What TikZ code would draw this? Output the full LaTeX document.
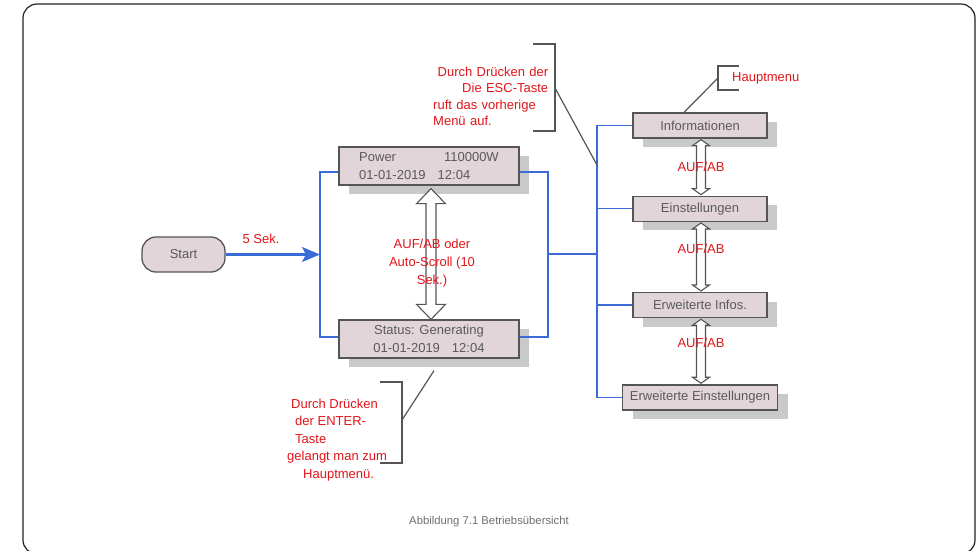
\documentclass[tikz,border=0pt]{standalone}
\usepackage{fontspec}
\setmainfont{Liberation Sans}
\usepackage{tikz}
\usetikzlibrary{arrows.meta,positioning,calc,shadows}
\definecolor{boxfill}{RGB}{226,213,218}
\definecolor{boxline}{RGB}{85,85,85}
\definecolor{boxtext}{RGB}{90,90,90}
\definecolor{shade}{RGB}{200,202,202}
\definecolor{linkblue}{RGB}{58,107,214}
\definecolor{notered}{RGB}{225,20,25}
\definecolor{capgray}{RGB}{110,110,110}
\definecolor{framecol}{RGB}{40,32,32}
\tikzset{
  menu/.style={draw=boxline, line width=1.3pt, fill=boxfill, text=boxtext, align=center, inner sep=0pt,
    minimum height=25pt, drop shadow={shadow xshift=10pt, shadow yshift=-9pt, fill=shade, opacity=1}},
  screen/.style={menu, minimum width=180pt, minimum height=38pt, font=\fontsize{13}{18}\selectfont},
  startbox/.style={draw=boxline, line width=1.3pt, fill=boxfill, text=boxtext, rounded corners=14pt,
    minimum width=83pt, minimum height=35pt},
  link/.style={draw=linkblue, line width=1.3pt},
  note/.style={text=notered, inner sep=0pt},
  callout/.style={draw=boxline, line width=1.2pt},
  hollow/.style={draw=boxline, line width=1.1pt, fill=white},
}
% hollow up/down arrow: top tip, bottom tip, shaft half width, head half width, head length
\newcommand{\updown}[5]{%
  \draw[hollow] (#1) -- ++(#4,#5) -- ++(-#4+#3,0) -- ($(#2)+(#3,-#5)$) -- ++(#4-#3,0) -- (#2)
    -- ++(-#4,-#5) -- ++(#4-#3,0) -- ($(#1)+(-#3,#5)$) -- ++(-#4+#3,0) -- cycle;
}

\begin{document}
\begin{tikzpicture}[x=1pt, y=-1pt, font=\fontsize{13}{16}\selectfont]
  \useasboundingbox (0,0) rectangle (978,550);
  \draw[framecol, line width=1.2pt, rounded corners=14pt] (23,4) rectangle (975,554);

  \node[startbox] (start) at (183.5,254.5) {Start};
  \node[screen, align=left] (power) at (429,166) {Power\hspace{48pt}110000W\\01-01-2019\hspace{12pt}12:04};
  \node[screen] (status) at (429,339) {Status: Generating\\01-01-2019\hspace{12pt}12:04};

  \node[menu, minimum width=134pt] (info) at (700,125.5) {Informationen};
  \node[menu, minimum width=134pt, below=57pt of info] (einst) {Einstellungen};
  \node[menu, minimum width=134pt, below=70pt of einst] (infos) {Erweiterte Infos.};
  \node[menu, minimum width=155pt, below=66pt of infos] (ee) {Erweiterte Einstellungen};

  % blue links
  \coordinate (lx) at (320,254);
  \coordinate (rx) at (548,254);
  \coordinate (hub) at (597,254);
  \draw[link] ([yshift=-6pt]power.west) -| (lx) |- ([yshift=2pt]status.west);
  \draw[link] ([yshift=-6pt]power.east) -| (rx) |- ([yshift=2pt]status.east);
  \draw[link] (rx) -- (hub);
  \draw[link] (info.west) -| (hub) |- (ee.west);
  \draw[link] (einst.west) -- (einst.west -| hub);
  \draw[link] (infos.west) -- (infos.west -| hub);
  \draw[link, line width=2.2pt, -{Stealth[length=18pt,width=15pt,inset=4pt]}] (start.east) -- (start.east -| lx);

  % up/down arrows
  \coordinate (u0) at ([xshift=2pt,yshift=-3pt]power.south);
  \coordinate (d0) at ([xshift=2pt]status.north);
  \updown{u0}{d0}{5}{14.5}{15}
  \foreach \a/\b in {info/einst,einst/infos,infos/ee} {
    \coordinate (t) at ([xshift=1pt,yshift=-1pt]\a.south);
    \coordinate (b) at ([xshift=1pt,yshift=1pt]\b.north);
    \updown{t}{b}{4.5}{8.5}{6}
  }

  \node[note] (sek) at (261,239) {5 Sek.};
  \node[note, align=center, font=\fontsize{13}{18}\selectfont] (scroll) at (432,263) {AUF/AB oder\\Auto-Scroll (10\\Sek.)};
  \node[note] (ab1) at (701,166.5) {AUF/AB};
  \node[note] (ab2) at (701,249) {AUF/AB};
  \node[note] (ab3) at (701,343) {AUF/AB};

  \node[note, text width=115pt, align=left, anchor=north west, font=\fontsize{13}{16.5}\selectfont] (esc) at (433,66.5)
    {\hspace*{\fill}Durch Drücken der\\\hspace*{\fill}Die ESC-Taste\\ruft das vorherige\\Menü auf.};
  \node[note, anchor=west] (haupt) at (732,78) {Hauptmenu};
  \node[note, align=left, anchor=north west, font=\fontsize{13}{17.5}\selectfont] (enter) at (287,398.5)
    {\hspace*{4pt}Durch Drücken\\\hspace*{8pt}der ENTER-\\\hspace*{8pt}Taste\\gelangt man zum\\\hspace*{16pt}Hauptmenü.};

  \node[text=capgray, font=\fontsize{11.3}{14}\selectfont] (caption) at (489,522) {Abbildung 7.1 Betriebsübersicht};

  % callouts
  \coordinate (escb) at (555,88);
  \coordinate (esctip) at (597,165);
  \draw[callout] (533,44) -| (555,131) -- (533,131);
  \draw[callout] (escb) -- (esctip);
  \coordinate (hauptb) at (718,78);
  \draw[callout] (739,66) -| (718,90) -- (739,90);
  \draw[callout] (hauptb) -- ([xshift=-16pt]info.north);
  \coordinate (enterb) at (402,420);
  \draw[callout] (380,382) -| (402,463) -- (380,463);
  \draw[callout] (enterb) -- ([xshift=5pt,yshift=-12pt]status.south);
\end{tikzpicture}
\end{document}
